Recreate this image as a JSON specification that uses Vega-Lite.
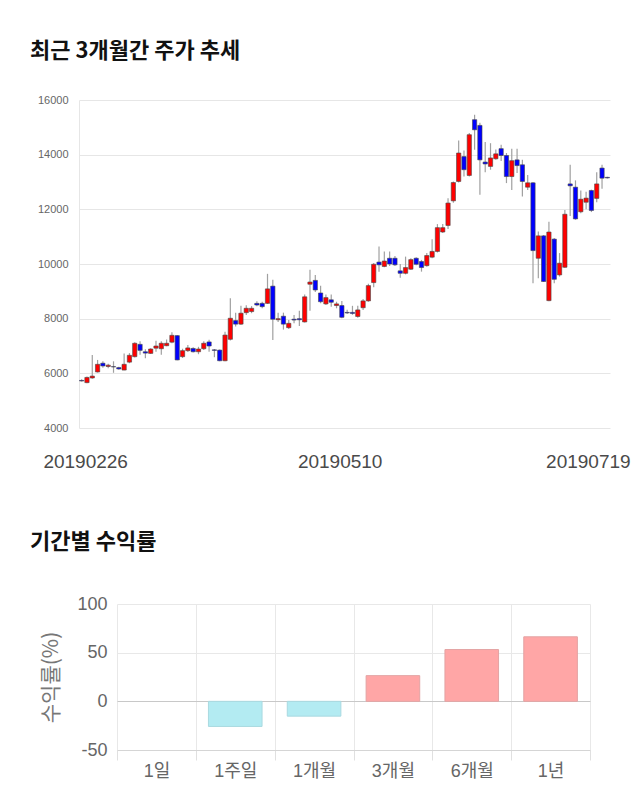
{
  "$schema": "https://vega.github.io/schema/vega-lite/v6.json",
  "padding": {"left": 30, "top": 40, "right": 0, "bottom": 0},
  "background": "white",
  "config": {"view": {"stroke": null}, "font": "Noto Sans CJK KR", "concat": {"spacing": 60}},
  "datasets": {
    "candles": [
      {"d":"20190226","o":5740,"h":5780,"l":5700,"c":5720},
      {"d":"20190227","o":5660,"h":5880,"l":5640,"c":5850},
      {"d":"20190228","o":5830,"h":6670,"l":5800,"c":5900},
      {"d":"20190304","o":6050,"h":6490,"l":6030,"c":6330},
      {"d":"20190305","o":6370,"h":6440,"l":6200,"c":6270},
      {"d":"20190306","o":6250,"h":6350,"l":6190,"c":6300},
      {"d":"20190307","o":6245,"h":6440,"l":6020,"c":6235},
      {"d":"20190308","o":6210,"h":6240,"l":6130,"c":6160},
      {"d":"20190311","o":6120,"h":6730,"l":6110,"c":6330},
      {"d":"20190312","o":6410,"h":6740,"l":6370,"c":6660},
      {"d":"20190313","o":6610,"h":7140,"l":6580,"c":7100},
      {"d":"20190314","o":7060,"h":7170,"l":6680,"c":6840},
      {"d":"20190315","o":6790,"h":6880,"l":6550,"c":6740},
      {"d":"20190318","o":6730,"h":6920,"l":6710,"c":6890},
      {"d":"20190319","o":6920,"h":7190,"l":6790,"c":7000},
      {"d":"20190320","o":6900,"h":7170,"l":6680,"c":7100},
      {"d":"20190321","o":7010,"h":7240,"l":6990,"c":7100},
      {"d":"20190322","o":7140,"h":7500,"l":7100,"c":7390},
      {"d":"20190325","o":7380,"h":7400,"l":6480,"c":6490},
      {"d":"20190326","o":6610,"h":6900,"l":6560,"c":6830},
      {"d":"20190327","o":6830,"h":7040,"l":6780,"c":6930},
      {"d":"20190328","o":6910,"h":6950,"l":6760,"c":6790},
      {"d":"20190329","o":6790,"h":6970,"l":6700,"c":6890},
      {"d":"20190401","o":6900,"h":7170,"l":6850,"c":7100},
      {"d":"20190402","o":7150,"h":7230,"l":6790,"c":7000},
      {"d":"20190403","o":6860,"h":6890,"l":6590,"c":6840},
      {"d":"20190404","o":6850,"h":6870,"l":6440,"c":6460},
      {"d":"20190405","o":6460,"h":7520,"l":6440,"c":7400},
      {"d":"20190408","o":7245,"h":8750,"l":7200,"c":8015},
      {"d":"20190409","o":7930,"h":8220,"l":7710,"c":7800},
      {"d":"20190410","o":7800,"h":8470,"l":7770,"c":8200},
      {"d":"20190411","o":8220,"h":8490,"l":8130,"c":8380},
      {"d":"20190412","o":8260,"h":8460,"l":8200,"c":8380},
      {"d":"20190415","o":8560,"h":8640,"l":8450,"c":8500},
      {"d":"20190416","o":8560,"h":8620,"l":8380,"c":8440},
      {"d":"20190417","o":8560,"h":9640,"l":8540,"c":9090},
      {"d":"20190418","o":9190,"h":9420,"l":7220,"c":7980},
      {"d":"20190419","o":7960,"h":8220,"l":7880,"c":8000},
      {"d":"20190422","o":8090,"h":8220,"l":7600,"c":7800},
      {"d":"20190423","o":7670,"h":7950,"l":7620,"c":7830},
      {"d":"20190424","o":7980,"h":8130,"l":7830,"c":7950},
      {"d":"20190425","o":8000,"h":8290,"l":7730,"c":7960},
      {"d":"20190426","o":7880,"h":8880,"l":7860,"c":8800},
      {"d":"20190429","o":9260,"h":9790,"l":8290,"c":9340},
      {"d":"20190430","o":9400,"h":9600,"l":8980,"c":9050},
      {"d":"20190502","o":8940,"h":9200,"l":8560,"c":8620},
      {"d":"20190503","o":8540,"h":8880,"l":8500,"c":8770},
      {"d":"20190507","o":8690,"h":8880,"l":8440,"c":8600},
      {"d":"20190508","o":8480,"h":8620,"l":8380,"c":8540},
      {"d":"20190509","o":8480,"h":8650,"l":8015,"c":8050},
      {"d":"20190510","o":8230,"h":8330,"l":8170,"c":8210},
      {"d":"20190513","o":8230,"h":8470,"l":8140,"c":8190},
      {"d":"20190514","o":8080,"h":8470,"l":8030,"c":8320},
      {"d":"20190515","o":8400,"h":8720,"l":8320,"c":8650},
      {"d":"20190516","o":8650,"h":9280,"l":8620,"c":9210},
      {"d":"20190517","o":9320,"h":10040,"l":9150,"c":9990},
      {"d":"20190520","o":10070,"h":10640,"l":9720,"c":9970},
      {"d":"20190521","o":9910,"h":10460,"l":9880,"c":10110},
      {"d":"20190522","o":10210,"h":10460,"l":9930,"c":10000},
      {"d":"20190523","o":10210,"h":10290,"l":9930,"c":9970},
      {"d":"20190524","o":9750,"h":10000,"l":9500,"c":9660},
      {"d":"20190527","o":9660,"h":10270,"l":9620,"c":9870},
      {"d":"20190528","o":9810,"h":10210,"l":9780,"c":10160},
      {"d":"20190529","o":10210,"h":10250,"l":9950,"c":9990},
      {"d":"20190530","o":10090,"h":10150,"l":9720,"c":9870},
      {"d":"20190531","o":9940,"h":10400,"l":9900,"c":10310},
      {"d":"20190603","o":10250,"h":10910,"l":10210,"c":10460},
      {"d":"20190604","o":10460,"h":11460,"l":10420,"c":11330},
      {"d":"20190605","o":11170,"h":11460,"l":11130,"c":11330},
      {"d":"20190607","o":11410,"h":12410,"l":11280,"c":12230},
      {"d":"20190610","o":12310,"h":13020,"l":12240,"c":12980},
      {"d":"20190611","o":13020,"h":14520,"l":12980,"c":14060},
      {"d":"20190612","o":13930,"h":14150,"l":13200,"c":13450},
      {"d":"20190613","o":13240,"h":14790,"l":13200,"c":14730},
      {"d":"20190614","o":15280,"h":15460,"l":14180,"c":14910},
      {"d":"20190617","o":15070,"h":15170,"l":12530,"c":13810},
      {"d":"20190618","o":13730,"h":14460,"l":13360,"c":13660},
      {"d":"20190619","o":13570,"h":14420,"l":13450,"c":13880},
      {"d":"20190620","o":13850,"h":14190,"l":13810,"c":14030},
      {"d":"20190621","o":14220,"h":14360,"l":13770,"c":13970},
      {"d":"20190624","o":13970,"h":14060,"l":12960,"c":13200},
      {"d":"20190625","o":13200,"h":14220,"l":12710,"c":13780},
      {"d":"20190626","o":13810,"h":14220,"l":13330,"c":13600},
      {"d":"20190627","o":13630,"h":13810,"l":12470,"c":13020},
      {"d":"20190628","o":12810,"h":13260,"l":12710,"c":12970},
      {"d":"20190701","o":12970,"h":13000,"l":9300,"c":10490},
      {"d":"20190702","o":10210,"h":11190,"l":9480,"c":11030},
      {"d":"20190703","o":11030,"h":11060,"l":9340,"c":9360},
      {"d":"20190704","o":8660,"h":11550,"l":8640,"c":11170},
      {"d":"20190705","o":10910,"h":10950,"l":9300,"c":9440},
      {"d":"20190708","o":9600,"h":10400,"l":9540,"c":10030},
      {"d":"20190709","o":9880,"h":11980,"l":9850,"c":11820},
      {"d":"20190710","o":12930,"h":13630,"l":11760,"c":12860},
      {"d":"20190711","o":12810,"h":13060,"l":11620,"c":11650},
      {"d":"20190712","o":11910,"h":12690,"l":11860,"c":12370},
      {"d":"20190715","o":12260,"h":12640,"l":12000,"c":12410},
      {"d":"20190716","o":12690,"h":12720,"l":11900,"c":11960},
      {"d":"20190717","o":12400,"h":13360,"l":12260,"c":12930},
      {"d":"20190718","o":13510,"h":13630,"l":12750,"c":13140},
      {"d":"20190719","o":13170,"h":13190,"l":13130,"c":13150}
    ],
    "returns": [
      {"period":"1일","r":0},
      {"period":"1주일","r":-25.8},
      {"period":"1개월","r":-15.2},
      {"period":"3개월","r":26.4},
      {"period":"6개월","r":53.2},
      {"period":"1년","r":66.3}
    ]
  },
  "vconcat": [
    {
      "title": {"text": "최근 3개월간 주가 추세", "anchor": "start", "frame": "group", "dx": -49, "fontSize": 22, "fontWeight": "bold", "color": "#111", "offset": 31},
      "width": 531,
      "height": 328,
      "data": {"name": "candles"},
      "encoding": {
        "x": {
          "field": "d", "type": "ordinal", "sort": null,
          "scale": {"paddingInner": 0.2, "paddingOuter": 0.1},
          "axis": {
            "values": ["20190226", "20190510", "20190719"],
            "title": null, "labelAngle": 0, "ticks": false, "tickSize": 0, "domain": false, "grid": false,
            "labelFont": "Liberation Sans", "labelFontSize": 19, "labelColor": "#4a4a4a", "labelPadding": 24,
            "labelOffset": {"expr": "datum.value == '20190226' ? 4 : (datum.value == '20190719' ? -19 : -7)"}
          }
        }
      },
      "layer": [
        {
          "mark": {"type": "rule", "color": "#a0a0a0", "strokeWidth": 1.2},
          "encoding": {
            "y": {
              "field": "l", "type": "quantitative",
              "scale": {"domain": [4000, 16000], "nice": false, "zero": false},
              "axis": {
                "values": [4000, 6000, 8000, 10000, 12000, 14000, 16000], "format": "d",
                "title": null, "ticks": false, "tickSize": 0, "labelPadding": 11,
                "labelFont": "Liberation Sans", "labelFontSize": 11, "labelColor": "#666",
                "domain": true, "domainColor": "#e6e6e6", "gridColor": "#e6e6e6"
              }
            },
            "y2": {"field": "h"}
          }
        },
        {
          "mark": {"type": "bar", "stroke": "#444", "strokeWidth": 0.6},
          "encoding": {
            "y": {"field": "o", "type": "quantitative"},
            "y2": {"field": "c"},
            "fill": {"condition": {"test": "datum.c >= datum.o", "value": "#ff0000"}, "value": "#0000ff"}
          }
        }
      ]
    },
    {
      "title": {"text": "기간별 수익률", "anchor": "start", "frame": "group", "dx": -49, "fontSize": 22, "fontWeight": "bold", "color": "#111", "offset": 41},
      "width": 511,
      "height": 146,
      "data": {"name": "returns"},
      "mark": {"type": "bar", "width": {"band": 0.68}, "strokeWidth": 1},
      "encoding": {
        "x": {
          "field": "period", "type": "nominal", "sort": null,
          "scale": {"range": [38, 511], "paddingInner": 0, "paddingOuter": 0},
          "axis": {
            "title": null, "labelAngle": 0, "labelFont": "Liberation Sans, Noto Sans CJK KR", "labelFontSize": 18, "labelColor": "#666",
            "tickBand": "extent", "grid": true, "gridColor": "#e8e8e8", "ticks": true, "tickColor": "#e0e0e0", "tickSize": 10,
            "domain": true, "domainColor": "#d5d5d5", "labelPadding": 2
          }
        },
        "y": {
          "field": "r", "type": "quantitative",
          "scale": {"domain": [-50, 100], "nice": false},
          "axis": {
            "values": [-50, 0, 50, 100], "labelExpr": "'' + datum.value",
            "title": "수익률(%)", "titleFont": "Noto Sans CJK KR", "titleFontSize": 21, "titleFontWeight": "normal", "titleColor": "#777", "titlePadding": 15,
            "labelFont": "Liberation Sans", "labelFontSize": 18, "labelColor": "#666", "ticks": false, "tickSize": 0, "labelPadding": 10,
            "domain": false, "offset": -38,
            "gridColor": {"condition": {"test": "datum.value === 0", "value": "#c8c8c8"}, "value": "#e8e8e8"}
          }
        },
        "fill": {"condition": [{"test": "datum.r > 0", "value": "#ffa6a6"}, {"test": "datum.r < 0", "value": "#b3ebf2"}], "value": "transparent"},
        "stroke": {"condition": [{"test": "datum.r > 0", "value": "#e3a3a3"}, {"test": "datum.r < 0", "value": "#a9d9e0"}], "value": "transparent"}
      }
    }
  ]
}
